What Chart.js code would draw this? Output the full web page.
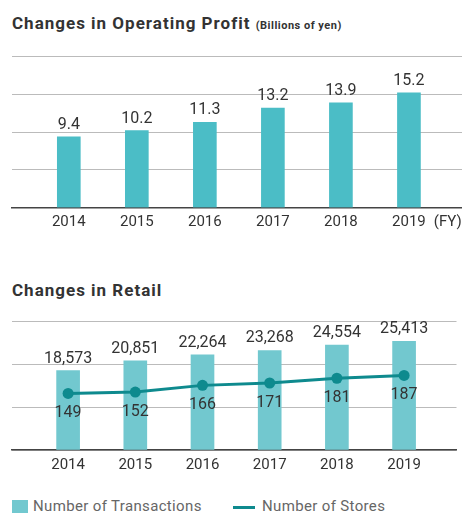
<!DOCTYPE html>
<html>
<head>
<meta charset="utf-8">
<script src="https://cdn.jsdelivr.net/npm/chart.js@4.4.1/dist/chart.umd.min.js"></script>
<style>
  body { margin: 0; background: #fff; font-family: Roboto, sans-serif; color: #333; }
  #page { position: relative; width: 462px; height: 513px; overflow: hidden; }
  .title { position: absolute; left: 12px; font-size: 17px; font-weight: bold; line-height: 17px; letter-spacing: 1px; color: #333; white-space: nowrap; }
  .title small { font-size: 11px; letter-spacing: 0.5px; }
  .box { position: absolute; left: 0; width: 462px; }
  .legend { position: absolute; top: 499px; font-size: 15px; line-height: 15px; letter-spacing: 0.35px; color: #666; white-space: nowrap; }
  .legend i { display: inline-block; vertical-align: middle; margin-right: 5px; }
</style>
</head>
<body>
<div id="page">
  <div class="title" style="top:15px">Changes in Operating Profit <small>(Billions of yen)</small></div>
  <div class="box" style="top:40px;height:195px"><canvas id="profit-chart"></canvas></div>

  <div class="title" style="top:282px">Changes in Retail</div>
  <div class="box" style="top:300px;height:180px"><canvas id="retail-chart"></canvas></div>

  <div class="legend" style="left:12px"><i style="width:16px;height:15px;background:#72c8cf"></i>Number of Transactions</div>
  <div class="legend" style="left:233px"><i style="width:22px;height:3px;background:#0e8a8e;margin-right:7px"></i>Number of Stores</div>
</div>

<script>
const years = ["2014", "2015", "2016", "2017", "2018", "2019"];
const operatingProfit = [9.4, 10.2, 11.3, 13.2, 13.9, 15.2];
const transactions = [18573, 20851, 22264, 23268, 24554, 25413];
const stores = [149, 152, 166, 171, 181, 187];

Chart.defaults.font.family = "Roboto";
Chart.defaults.color = "#333";

const xy = arr => arr.map((v, i) => ({ x: i, y: v }));

// value text over bars / under points
const valueLabels = {
  id: "valueLabels",
  afterDatasetsDraw(chart) {
    const ctx = chart.ctx;
    ctx.save();
    ctx.font = "16px Roboto";
    ctx.fillStyle = "#333";
    ctx.textAlign = "center";
    chart.data.datasets.forEach((ds, di) => {
      const meta = chart.getDatasetMeta(di);
      meta.data.forEach((el, i) => {
        const text = ds.labelFormat(ds.data[i].y);
        if (ds.type === "line") {
          ctx.textBaseline = "top";
          ctx.fillText(text, el.x, el.y + 12);
        } else {
          ctx.textBaseline = "bottom";
          ctx.fillText(text, el.x, el.y - 4);
        }
      });
    });
    ctx.restore();
  }
};

// years sit on integer positions; the axis runs a bit past both ends
function xScale(extraTick, height) {
  return {
    type: "linear",
    offset: false,
    bounds: "data",
    min: -0.835,
    max: 5.78,
    afterBuildTicks(scale) {
      const t = years.map((_, i) => ({ value: i }));
      if (extraTick) t.push({ value: 5.57 });
      scale.ticks = t;
    },
    afterFit(scale) {
      scale.height = height;
      scale.paddingLeft = 0;
      scale.paddingRight = 0;
    },
    grid: { display: false, drawTicks: false, offset: false },
    border: { color: "#444", width: 1.5 },
    ticks: {
      autoSkip: false,
      maxRotation: 0,
      padding: 6,
      font: { size: 15 },
      color: "#333",
      callback: v => Number.isInteger(v) ? years[v] : "(FY)"
    }
  };
}

new Chart(document.getElementById("profit-chart"), {
  type: "bar",
  data: {
    datasets: [{
      data: xy(operatingProfit),
      backgroundColor: "#4bbdc6",
      barThickness: 23,
      labelFormat: v => v.toFixed(1)
    }]
  },
  options: {
    responsive: true,
    maintainAspectRatio: false,
    animation: false,
    layout: { padding: { left: 12, right: 0, top: 16.7, bottom: 0 } },
    plugins: { legend: { display: false }, tooltip: { enabled: false } },
    scales: {
      x: xScale(true, 27.3),
      y: {
        min: 0,
        max: 20,
        ticks: { display: false, stepSize: 5 },
        grid: { color: "#bbb", lineWidth: 1, drawTicks: false },
        border: { display: false },
        afterFit(scale) { scale.width = 0; }
      }
    }
  },
  plugins: [valueLabels]
});

new Chart(document.getElementById("retail-chart"), {
  type: "bar",
  data: {
    datasets: [{
      type: "line",
      data: xy(stores),
      yAxisID: "y1",
      borderColor: "#0e8a8e",
      backgroundColor: "#0e8a8e",
      borderWidth: 3,
      pointRadius: 5.5,
      pointBorderWidth: 0,
      tension: 0,
      order: 0,
      labelFormat: v => String(v)
    }, {
      type: "bar",
      data: xy(transactions),
      backgroundColor: "#72c8cf",
      barThickness: 23,
      order: 1,
      labelFormat: v => v.toLocaleString("en-US")
    }]
  },
  options: {
    responsive: true,
    maintainAspectRatio: false,
    animation: false,
    layout: { padding: { left: 12, right: 0, top: 21.7, bottom: 0 } },
    plugins: { legend: { display: false }, tooltip: { enabled: false } },
    scales: {
      x: xScale(false, 30),
      y: {
        min: 0,
        max: 30000,
        ticks: { display: false, stepSize: 10000 },
        grid: { color: "#bbb", lineWidth: 1, drawTicks: false },
        border: { display: false },
        afterFit(scale) { scale.width = 0; }
      },
      y1: {
        display: false,
        position: "right",
        min: 30,
        max: 300
      }
    }
  },
  plugins: [valueLabels]
});
</script>
</body>
</html>
